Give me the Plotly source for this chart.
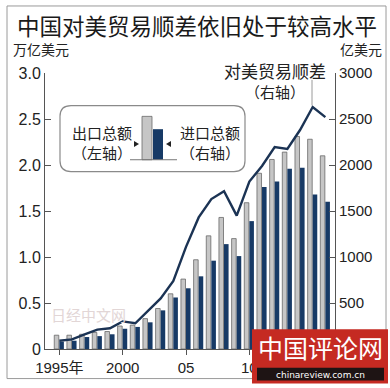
import plotly.graph_objects as go

years = list(range(1995, 2017))
export_total = [0.15, 0.15, 0.16, 0.18, 0.19, 0.25, 0.26, 0.33, 0.44, 0.60, 0.76, 0.97,
                1.23, 1.43, 1.20, 1.59, 1.91, 2.06, 2.14, 2.31, 2.28, 2.10]  # 万亿美元, left axis
import_total = [80, 90, 130, 140, 160, 220, 240, 290, 420, 560, 660, 790,
                960, 1140, 1010, 1390, 1760, 1820, 1960, 1970, 1680, 1600]  # 亿美元, right axis
surplus = [90, 105, 160, 210, 225, 300, 280, 410, 550, 740, 1110, 1430,
           1630, 1715, 1450, 1820, 1990, 2195, 2175, 2380, 2630, 2520]  # 亿美元, right axis

left_ticks = [0, 0.5, 1.0, 1.5, 2.0, 2.5, 3.0]
left_labels = ["0", "0.5", "1.0", "1.5", "2.0", "2.5", "3.0"]
right_ticks = [500, 1000, 1500, 2000, 2500, 3000]
right_labels = ["500", "1000", "1500", "2000", "2500", "3000"]
x_ticks = [1995, 2000, 2005, 2010]
x_labels = ["1995年", "2000", "05", "10"]

GREY = "#c6c6c6"
NAVY = "#173a66"
AX = "#555555"
NUMF = "Liberation Sans, Arial, sans-serif"
CJK = "Noto Sans CJK SC"

L, R, T, B = 45, 55, 73, 35
W, H = 390, 388
PW, PH = W - L - R, H - T - B


def px(x):
    return (x - L) / PW


def py(y):
    return (H - B - y) / PH


fig = go.Figure()
fig.add_trace(go.Bar(x=years, y=export_total, width=0.36, offset=-0.40,
                     marker=dict(color=GREY, line=dict(color="#6a6a6a", width=0.8)),
                     yaxis="y", showlegend=False))
fig.add_trace(go.Bar(x=years, y=import_total, width=0.36, offset=0.0,
                     marker=dict(color=NAVY, line=dict(width=0)),
                     yaxis="y2", showlegend=False))
fig.add_trace(go.Scatter(x=years, y=surplus, mode="lines",
                         line=dict(color="#1b3354", width=2.4),
                         yaxis="y2", showlegend=False))

shapes = []
# outer frame
shapes.append(dict(type="rect", xref="paper", yref="paper",
                   x0=px(7), x1=px(386), y0=py(383), y1=py(5),
                   line=dict(color="#9a9a9a", width=1), layer="below"))
# legend box with rounded corners
x0, x1, y0, y1 = px(60), px(245), py(173), py(106)
rx, ry = 11 / PW, 11 / PH
path = (f"M {x0+rx},{y1} L {x1-rx},{y1} Q {x1},{y1} {x1},{y1-ry} "
        f"L {x1},{y0+ry} Q {x1},{y0} {x1-rx},{y0} L {x0+rx},{y0} "
        f"Q {x0},{y0} {x0},{y0+ry} L {x0},{y1-ry} Q {x0},{y1} {x0+rx},{y1} Z")
shapes.append(dict(type="path", xref="paper", yref="paper", path=path,
                   fillcolor="white", line=dict(color="#8a8a8a", width=1.2)))
# mini legend bars
shapes.append(dict(type="rect", xref="paper", yref="paper",
                   x0=px(142), x1=px(152), y0=py(161), y1=py(117),
                   fillcolor=GREY, line=dict(color="#6a6a6a", width=0.8)))
shapes.append(dict(type="rect", xref="paper", yref="paper",
                   x0=px(153), x1=px(163), y0=py(161), y1=py(130),
                   fillcolor=NAVY, line=dict(width=0)))
shapes.append(dict(type="line", xref="paper", yref="paper",
                   x0=px(130), x1=px(177), y0=py(161), y1=py(161),
                   line=dict(color="#777777", width=1)))
# small triangles
shapes.append(dict(type="path", xref="paper", yref="paper",
                   path=f"M {px(134)},{py(142)} L {px(139)},{py(145)} L {px(134)},{py(148)} Z",
                   fillcolor="#222", line=dict(width=0)))
shapes.append(dict(type="path", xref="paper", yref="paper",
                   path=f"M {px(171)},{py(142)} L {px(166)},{py(145)} L {px(171)},{py(148)} Z",
                   fillcolor="#222", line=dict(width=0)))
# leader line for surplus label
shapes.append(dict(type="line", xref="paper", yref="paper",
                   x0=px(312), x1=px(312), y0=py(106), y1=py(80),
                   line=dict(color="#9a9a9a", width=1)))
# watermark box
shapes.append(dict(type="rect", xref="paper", yref="paper",
                   x0=px(252), x1=px(388), y0=py(388), y1=py(333),
                   fillcolor="#c52a22", line=dict(width=0)))
shapes.append(dict(type="rect", xref="paper", yref="paper",
                   x0=px(257), x1=px(384), y0=py(385), y1=py(372),
                   fillcolor="#1e1414", line=dict(width=0)))

annotations = []


def txt(x, y, s, size, color="#222", font=CJK, xanchor="center", **kw):
    annotations.append(dict(xref="paper", yref="paper", x=px(x), y=py(y), text=s,
                            showarrow=False, xanchor=xanchor, yanchor="middle",
                            font=dict(family=font, size=size, color=color), **kw))


txt(197, 24, "中国对美贸易顺差依旧处于较高水平", 22.5, color="#1a1a1a")
txt(11, 49, "万亿美元", 14, xanchor="left")
txt(384, 49, "亿美元", 14, xanchor="right")
txt(275, 70, "对美贸易顺差", 17)
txt(275, 92, "（右轴）", 15)
txt(102, 133, "出口总额", 15)
txt(102, 154, "（左轴）", 15)
txt(210, 133, "进口总额", 15)
txt(210, 154, "（右轴）", 15)
txt(88, 318, "日经中文网", 15, color="#e2d6d6")
txt(320, 351, "中国评论网", 25, color="white")
txt(320, 379, "chinareview.com.cn", 9, color="white", font="DejaVu Sans")

fig.update_layout(
    width=W, height=H,
    margin=dict(l=L, r=R, t=T, b=B),
    paper_bgcolor="white", plot_bgcolor="white",
    barmode="overlay",
    shapes=shapes, annotations=annotations,
    xaxis=dict(range=[1993.87, 2016.76], tickvals=x_ticks, ticktext=x_labels,
               showgrid=False, zeroline=False, showline=True, linecolor=AX,
               ticks="outside", ticklen=5, tickcolor=AX,
               tickfont=dict(family=NUMF + ", " + CJK, size=15, color="#222")),
    yaxis=dict(range=[0, 3.0], tickvals=left_ticks, ticktext=left_labels,
               showgrid=False, zeroline=False, showline=True, linecolor=AX,
               ticks="inside", ticklen=6, tickcolor=AX,
               tickfont=dict(family=NUMF, size=16, color="#222")),
    yaxis2=dict(range=[0, 3000], tickvals=right_ticks, ticktext=right_labels,
                overlaying="y", side="right",
                showgrid=False, zeroline=False, showline=True, linecolor=AX,
                ticks="inside", ticklen=6, tickcolor=AX,
                tickfont=dict(family=NUMF, size=15, color="#222")),
)

fig.write_html("out.html", config={"displayModeBar": False},
               post_script="document.body.style.margin='0';document.body.style.overflow='hidden';")
